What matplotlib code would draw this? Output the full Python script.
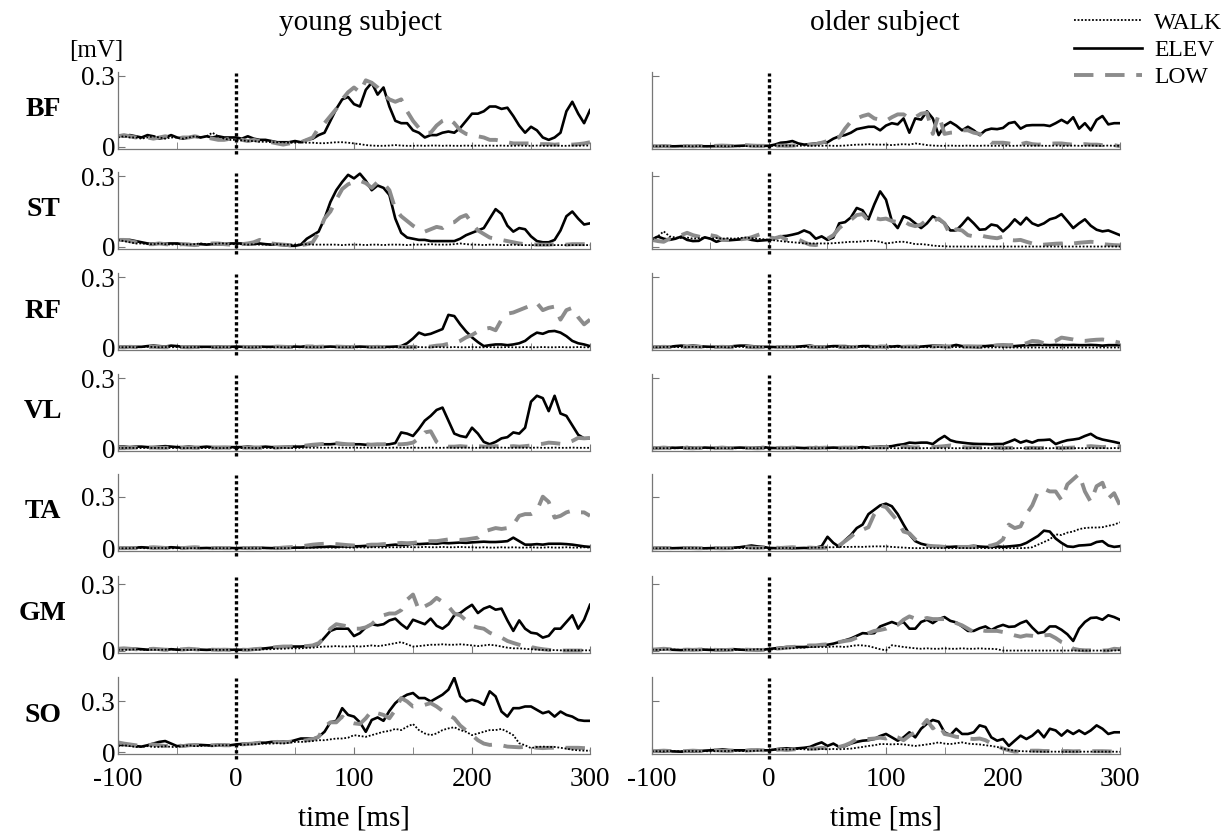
import numpy as np
import matplotlib
matplotlib.use("Agg")
import matplotlib.pyplot as plt
from matplotlib.lines import Line2D

plt.rcParams["font.family"] = ["Liberation Serif", "DejaVu Serif"]

# time axis [ms], one sample every 5 ms
time_ms = np.arange(-100, 301, 5)

muscles = ["BF", "ST", "RF", "VL", "TA", "GM", "SO"]
subjects = ["young subject", "older subject"]
conditions = ["WALK", "ELEV", "LOW"]

# ---------------- young subject, EMG [mV] ----------------
bf_young_walk = [0.04, 0.045, 0.04, 0.04, 0.035, 0.04, 0.045, 0.04, 0.035, 0.04, 0.04, 0.035, 0.04, 0.045, 0.04, 0.045, 0.06, 0.045, 0.035, 0.03,
                 0.03, 0.028, 0.025, 0.025, 0.022, 0.022, 0.02, 0.02, 0.02, 0.018, 0.018, 0.02, 0.018, 0.018, 0.016, 0.016, 0.018, 0.02, 0.02, 0.018,
                 0.015, 0.012, 0.008, 0.006, 0.005, 0.005, 0.006, 0.008, 0.006, 0.005, 0.005, 0.006, 0.005, 0.006, 0.006, 0.005, 0.006, 0.005, 0.005, 0.006,
                 0.005, 0.006, 0.005, 0.006, 0.005, 0.006, 0.005, 0.005, 0.006, 0.005, 0.005, 0.006, 0.005, 0.005, 0.006, 0.005, 0.005, 0.006, 0.005, 0.006,
                 0.006]
bf_young_elev = [0.05, 0.045, 0.05, 0.045, 0.04, 0.05, 0.045, 0.035, 0.04, 0.05, 0.04, 0.035, 0.04, 0.045, 0.04, 0.045, 0.04, 0.045, 0.04, 0.04,
                 0.04, 0.035, 0.045, 0.035, 0.03, 0.03, 0.025, 0.02, 0.02, 0.02, 0.025, 0.02, 0.03, 0.035, 0.05, 0.06, 0.11, 0.16, 0.2, 0.21,
                 0.18, 0.17, 0.24, 0.27, 0.22, 0.25, 0.17, 0.11, 0.1, 0.1, 0.07, 0.06, 0.04, 0.05, 0.05, 0.06, 0.065, 0.06, 0.08, 0.11,
                 0.14, 0.14, 0.15, 0.17, 0.17, 0.16, 0.165, 0.13, 0.09, 0.06, 0.085, 0.07, 0.04, 0.03, 0.04, 0.06, 0.15, 0.19, 0.14, 0.1,
                 0.155]
bf_young_low = [0.045, 0.05, 0.045, 0.04, 0.045, 0.04, 0.035, 0.04, 0.045, 0.04, 0.035, 0.04, 0.04, 0.045, 0.04, 0.04, 0.035, 0.03, 0.03, 0.035,
                0.035, 0.03, 0.025, 0.03, 0.025, 0.02, 0.02, 0.015, 0.01, 0.015, 0.015, 0.02, 0.03, 0.04, 0.08, 0.1, 0.13, 0.16, 0.2, 0.23,
                0.25, 0.23, 0.28, 0.27, 0.25, 0.22, 0.2, 0.19, 0.2, 0.15, 0.11, 0.08, 0.06, 0.06, 0.09, 0.11, 0.12, 0.1, 0.07, 0.055,
                0.05, 0.045, 0.04, 0.03, 0.03, 0.025, 0.02, 0.015, 0.015, 0.015, 0.015, 0.012, 0.012, 0.012, 0.01, 0.012, 0.012, 0.01, 0.012, 0.015,
                0.02]

st_young_walk = [0.03, 0.025, 0.02, 0.015, 0.015, 0.012, 0.012, 0.015, 0.012, 0.01, 0.012, 0.012, 0.01, 0.012, 0.015, 0.012, 0.012, 0.015, 0.015, 0.012,
                 0.012, 0.012, 0.01, 0.012, 0.01, 0.01, 0.01, 0.012, 0.01, 0.01, 0.01, 0.01, 0.012, 0.01, 0.01, 0.01, 0.01, 0.01, 0.008, 0.01,
                 0.01, 0.01, 0.008, 0.01, 0.01, 0.008, 0.01, 0.01, 0.01, 0.008, 0.01, 0.01, 0.01, 0.012, 0.01, 0.01, 0.01, 0.012, 0.015, 0.012,
                 0.01, 0.01, 0.008, 0.01, 0.01, 0.008, 0.008, 0.01, 0.008, 0.008, 0.008, 0.008, 0.008, 0.008, 0.008, 0.008, 0.008, 0.008, 0.008, 0.008,
                 0.008]
st_young_elev = [0.03, 0.03, 0.03, 0.025, 0.02, 0.015, 0.015, 0.015, 0.015, 0.015, 0.015, 0.012, 0.012, 0.01, 0.012, 0.01, 0.012, 0.012, 0.012, 0.015,
                 0.015, 0.015, 0.012, 0.012, 0.015, 0.012, 0.01, 0.01, 0.008, 0.005, 0.005, 0.01, 0.035, 0.05, 0.065, 0.12, 0.19, 0.24, 0.275, 0.305,
                 0.29, 0.31, 0.28, 0.24, 0.26, 0.25, 0.22, 0.12, 0.06, 0.04, 0.035, 0.03, 0.03, 0.025, 0.025, 0.025, 0.025, 0.025, 0.035, 0.05,
                 0.06, 0.07, 0.08, 0.12, 0.16, 0.14, 0.09, 0.065, 0.08, 0.075, 0.045, 0.025, 0.02, 0.02, 0.03, 0.07, 0.13, 0.15, 0.12, 0.095,
                 0.1]
st_young_low = [0.03, 0.03, 0.025, 0.02, 0.015, 0.012, 0.012, 0.015, 0.012, 0.01, 0.01, 0.012, 0.01, 0.008, 0.01, 0.012, 0.015, 0.015, 0.012, 0.01,
                0.012, 0.012, 0.015, 0.02, 0.03, 0.02, 0.015, 0.012, 0.01, 0.008, 0.005, 0.008, 0.012, 0.02, 0.06, 0.12, 0.15, 0.2, 0.245, 0.265,
                0.275, 0.28, 0.27, 0.25, 0.275, 0.27, 0.24, 0.16, 0.13, 0.11, 0.09, 0.075, 0.065, 0.075, 0.085, 0.08, 0.1, 0.105, 0.125, 0.135,
                0.1, 0.07, 0.055, 0.04, 0.035, 0.03, 0.025, 0.02, 0.015, 0.012, 0.012, 0.01, 0.01, 0.01, 0.012, 0.01, 0.01, 0.012, 0.012, 0.012,
                0.012]

rf_young_walk = [0.004, 0.003, 0.004, 0.003, 0.004, 0.005, 0.004, 0.003, 0.004, 0.003, 0.004, 0.003, 0.003, 0.004, 0.003, 0.004, 0.003, 0.003, 0.004, 0.003,
                 0.003, 0.004, 0.003, 0.003, 0.004, 0.003, 0.003, 0.004, 0.003, 0.003, 0.004, 0.003, 0.003, 0.004, 0.003, 0.003, 0.004, 0.003, 0.003, 0.004,
                 0.003, 0.003, 0.004, 0.003, 0.003, 0.004, 0.003, 0.003, 0.004, 0.003, 0.003, 0.004, 0.003, 0.003, 0.004, 0.003, 0.003, 0.004, 0.003, 0.003,
                 0.004, 0.003, 0.003, 0.004, 0.003, 0.003, 0.004, 0.003, 0.003, 0.004, 0.003, 0.003, 0.004, 0.003, 0.003, 0.004, 0.003, 0.003, 0.004, 0.003,
                 0.003]
rf_young_elev = [0.005, 0.005, 0.006, 0.005, 0.005, 0.008, 0.01, 0.008, 0.006, 0.01, 0.008, 0.005, 0.005, 0.006, 0.005, 0.005, 0.005, 0.006, 0.005, 0.005,
                 0.006, 0.005, 0.005, 0.005, 0.006, 0.005, 0.005, 0.006, 0.005, 0.005, 0.006, 0.005, 0.008, 0.008, 0.005, 0.005, 0.006, 0.005, 0.005, 0.005,
                 0.005, 0.006, 0.005, 0.005, 0.006, 0.005, 0.005, 0.006, 0.008, 0.02, 0.04, 0.065, 0.055, 0.06, 0.07, 0.08, 0.14, 0.135, 0.1, 0.07,
                 0.045, 0.025, 0.008, 0.012, 0.015, 0.015, 0.012, 0.015, 0.02, 0.03, 0.05, 0.065, 0.06, 0.07, 0.072, 0.065, 0.05, 0.03, 0.02, 0.015,
                 0.008]
rf_young_low = [0.004, 0.003, 0.005, 0.004, 0.003, 0.004, 0.005, 0.004, 0.003, 0.004, 0.005, 0.004, 0.003, 0.004, 0.004, 0.005, 0.004, 0.003, 0.004, 0.004,
                0.004, 0.005, 0.004, 0.003, 0.004, 0.005, 0.004, 0.006, 0.005, 0.004, 0.005, 0.006, 0.005, 0.004, 0.005, 0.006, 0.008, 0.006, 0.005, 0.004,
                0.005, 0.004, 0.005, 0.004, 0.005, 0.004, 0.005, 0.004, 0.005, 0.004, 0.005, 0.004, 0.005, 0.006, 0.01, 0.012, 0.018, 0.02, 0.03, 0.045,
                0.055, 0.07, 0.08, 0.085, 0.075, 0.12, 0.145, 0.15, 0.16, 0.17, 0.18, 0.19, 0.16, 0.17, 0.175, 0.12, 0.16, 0.17, 0.13, 0.1,
                0.12]

vl_young_walk = [0.005, 0.004, 0.005, 0.004, 0.004, 0.005, 0.004, 0.005, 0.004, 0.004, 0.005, 0.004, 0.004, 0.005, 0.004, 0.004, 0.005, 0.004, 0.004, 0.005,
                 0.004, 0.004, 0.005, 0.004, 0.004, 0.005, 0.004, 0.004, 0.005, 0.004, 0.004, 0.005, 0.006, 0.005, 0.006, 0.005, 0.006, 0.005, 0.006, 0.005,
                 0.006, 0.005, 0.006, 0.005, 0.006, 0.005, 0.005, 0.006, 0.005, 0.005, 0.006, 0.005, 0.005, 0.006, 0.005, 0.005, 0.006, 0.005, 0.005, 0.006,
                 0.005, 0.005, 0.006, 0.005, 0.005, 0.006, 0.005, 0.005, 0.006, 0.005, 0.005, 0.006, 0.005, 0.005, 0.006, 0.005, 0.005, 0.006, 0.005, 0.005,
                 0.005]
vl_young_elev = [0.01, 0.01, 0.008, 0.01, 0.01, 0.008, 0.008, 0.01, 0.012, 0.01, 0.008, 0.008, 0.01, 0.008, 0.008, 0.01, 0.008, 0.008, 0.008, 0.008,
                 0.008, 0.008, 0.01, 0.008, 0.008, 0.01, 0.008, 0.008, 0.008, 0.01, 0.01, 0.01, 0.012, 0.015, 0.018, 0.02, 0.02, 0.022, 0.02, 0.018,
                 0.02, 0.02, 0.018, 0.02, 0.02, 0.018, 0.02, 0.025, 0.07, 0.065, 0.055, 0.085, 0.12, 0.14, 0.165, 0.175, 0.12, 0.065, 0.055, 0.05,
                 0.09, 0.065, 0.03, 0.02, 0.03, 0.045, 0.05, 0.07, 0.065, 0.09, 0.2, 0.225, 0.215, 0.16, 0.225, 0.15, 0.14, 0.1, 0.06, 0.045,
                 0.045]
vl_young_low = [0.006, 0.005, 0.005, 0.006, 0.005, 0.005, 0.006, 0.005, 0.005, 0.006, 0.005, 0.005, 0.006, 0.005, 0.005, 0.006, 0.005, 0.005, 0.006, 0.005,
                0.005, 0.005, 0.006, 0.005, 0.005, 0.006, 0.005, 0.006, 0.008, 0.008, 0.01, 0.012, 0.015, 0.018, 0.02, 0.022, 0.025, 0.025, 0.022, 0.02,
                0.02, 0.022, 0.02, 0.018, 0.02, 0.02, 0.022, 0.02, 0.02, 0.022, 0.027, 0.045, 0.07, 0.075, 0.03, 0.012, 0.01, 0.01, 0.012, 0.01,
                0.01, 0.012, 0.01, 0.01, 0.012, 0.01, 0.01, 0.012, 0.01, 0.012, 0.015, 0.02, 0.022, 0.027, 0.025, 0.022, 0.025, 0.034, 0.047, 0.045,
                0.047]

ta_young_walk = [0.005, 0.004, 0.005, 0.006, 0.005, 0.004, 0.005, 0.006, 0.005, 0.004, 0.005, 0.005, 0.004, 0.005, 0.006, 0.005, 0.004, 0.005, 0.005, 0.004,
                 0.005, 0.004, 0.005, 0.005, 0.004, 0.005, 0.005, 0.004, 0.005, 0.005, 0.006, 0.006, 0.007, 0.008, 0.008, 0.01, 0.008, 0.008, 0.01, 0.008,
                 0.008, 0.01, 0.008, 0.01, 0.01, 0.008, 0.01, 0.01, 0.01, 0.012, 0.01, 0.01, 0.012, 0.01, 0.01, 0.012, 0.01, 0.01, 0.012, 0.01,
                 0.01, 0.008, 0.01, 0.008, 0.008, 0.01, 0.008, 0.01, 0.008, 0.008, 0.01, 0.008, 0.008, 0.01, 0.008, 0.008, 0.01, 0.008, 0.008, 0.01,
                 0.008]
ta_young_elev = [0.006, 0.005, 0.006, 0.008, 0.01, 0.008, 0.005, 0.006, 0.008, 0.01, 0.008, 0.006, 0.008, 0.006, 0.005, 0.006, 0.005, 0.006, 0.005, 0.006,
                 0.005, 0.006, 0.005, 0.008, 0.008, 0.006, 0.005, 0.006, 0.005, 0.006, 0.008, 0.008, 0.01, 0.01, 0.012, 0.012, 0.014, 0.012, 0.015, 0.014,
                 0.015, 0.016, 0.018, 0.016, 0.02, 0.018, 0.022, 0.025, 0.022, 0.025, 0.03, 0.028, 0.03, 0.032, 0.03, 0.035, 0.033, 0.035, 0.037, 0.035,
                 0.038, 0.04, 0.042, 0.04, 0.04, 0.042, 0.045, 0.065, 0.045, 0.025, 0.025, 0.028, 0.025, 0.03, 0.03, 0.03, 0.028, 0.025, 0.02, 0.015,
                 0.012]
ta_young_low = [0.005, 0.006, 0.005, 0.005, 0.006, 0.008, 0.01, 0.008, 0.006, 0.005, 0.006, 0.005, 0.008, 0.01, 0.008, 0.006, 0.005, 0.006, 0.005, 0.005,
                0.005, 0.006, 0.005, 0.005, 0.006, 0.005, 0.006, 0.005, 0.008, 0.01, 0.012, 0.015, 0.02, 0.025, 0.028, 0.03, 0.03, 0.028, 0.025, 0.022,
                0.02, 0.02, 0.022, 0.025, 0.025, 0.028, 0.03, 0.032, 0.035, 0.033, 0.035, 0.04, 0.042, 0.045, 0.045, 0.05, 0.055, 0.055, 0.052, 0.055,
                0.06, 0.065, 0.1, 0.11, 0.12, 0.115, 0.12, 0.14, 0.19, 0.2, 0.2, 0.22, 0.3, 0.27, 0.18, 0.19, 0.21, 0.22, 0.21, 0.21,
                0.19]

gm_young_walk = [0.006, 0.005, 0.006, 0.008, 0.006, 0.005, 0.006, 0.005, 0.006, 0.008, 0.006, 0.005, 0.005, 0.006, 0.005, 0.005, 0.006, 0.005, 0.005, 0.006,
                 0.005, 0.006, 0.005, 0.006, 0.006, 0.008, 0.008, 0.01, 0.01, 0.012, 0.012, 0.012, 0.014, 0.015, 0.018, 0.02, 0.02, 0.022, 0.02, 0.02,
                 0.022, 0.02, 0.022, 0.025, 0.022, 0.025, 0.03, 0.035, 0.04, 0.03, 0.02, 0.022, 0.025, 0.028, 0.028, 0.03, 0.028, 0.028, 0.03, 0.028,
                 0.025, 0.022, 0.025, 0.028, 0.025, 0.02, 0.015, 0.012, 0.012, 0.01, 0.008, 0.006, 0.005, 0.004, 0.004, 0.003, 0.003, 0.003, 0.003, 0.003,
                 0.003]
gm_young_elev = [0.008, 0.01, 0.012, 0.01, 0.008, 0.006, 0.008, 0.006, 0.005, 0.008, 0.006, 0.005, 0.006, 0.008, 0.006, 0.005, 0.006, 0.008, 0.006, 0.005,
                 0.006, 0.005, 0.006, 0.008, 0.01, 0.012, 0.015, 0.018, 0.02, 0.02, 0.02, 0.02, 0.022, 0.025, 0.03, 0.06, 0.09, 0.1, 0.1, 0.1,
                 0.067, 0.08, 0.106, 0.12, 0.115, 0.12, 0.137, 0.145, 0.12, 0.1, 0.14, 0.13, 0.12, 0.145, 0.113, 0.1, 0.12, 0.16, 0.17, 0.19,
                 0.207, 0.17, 0.19, 0.2, 0.185, 0.19, 0.137, 0.09, 0.137, 0.1, 0.082, 0.078, 0.06, 0.068, 0.1, 0.1, 0.13, 0.16, 0.1, 0.14,
                 0.207]
gm_young_low = [0.01, 0.012, 0.01, 0.008, 0.006, 0.008, 0.01, 0.008, 0.006, 0.005, 0.006, 0.008, 0.01, 0.008, 0.006, 0.005, 0.006, 0.005, 0.006, 0.005,
                0.005, 0.006, 0.005, 0.008, 0.01, 0.012, 0.015, 0.018, 0.02, 0.02, 0.022, 0.02, 0.022, 0.025, 0.035, 0.06, 0.1, 0.12, 0.115, 0.11,
                0.1, 0.1, 0.106, 0.12, 0.145, 0.16, 0.168, 0.168, 0.183, 0.23, 0.253, 0.183, 0.2, 0.214, 0.238, 0.22, 0.2, 0.168, 0.16, 0.137,
                0.113, 0.105, 0.1, 0.082, 0.07, 0.06, 0.045, 0.036, 0.028, 0.02, 0.018, 0.012, 0.008, 0.005, 0.003, 0.002, 0.002, 0.002, 0.002, 0.002,
                0.002]

so_young_walk = [0.035, 0.04, 0.035, 0.03, 0.03, 0.035, 0.03, 0.03, 0.035, 0.03, 0.03, 0.035, 0.04, 0.035, 0.035, 0.04, 0.035, 0.04, 0.04, 0.04,
                 0.04, 0.042, 0.045, 0.045, 0.048, 0.05, 0.05, 0.052, 0.05, 0.055, 0.06, 0.06, 0.062, 0.065, 0.07, 0.07, 0.075, 0.08, 0.08, 0.085,
                 0.1, 0.095, 0.09, 0.1, 0.11, 0.12, 0.125, 0.137, 0.13, 0.15, 0.166, 0.13, 0.11, 0.1, 0.11, 0.13, 0.14, 0.147, 0.13, 0.12,
                 0.1, 0.11, 0.12, 0.13, 0.13, 0.137, 0.12, 0.1, 0.052, 0.04, 0.023, 0.03, 0.032, 0.03, 0.03, 0.025, 0.02, 0.013, 0.01, 0.008,
                 0.008]
so_young_elev = [0.042, 0.042, 0.04, 0.035, 0.032, 0.04, 0.05, 0.06, 0.065, 0.05, 0.035, 0.038, 0.04, 0.04, 0.042, 0.04, 0.038, 0.04, 0.042, 0.04,
                 0.045, 0.048, 0.05, 0.052, 0.055, 0.055, 0.06, 0.06, 0.062, 0.06, 0.07, 0.08, 0.08, 0.078, 0.09, 0.12, 0.176, 0.185, 0.26, 0.22,
                 0.21, 0.176, 0.12, 0.19, 0.205, 0.185, 0.244, 0.29, 0.32, 0.34, 0.35, 0.32, 0.32, 0.3, 0.32, 0.34, 0.37, 0.44, 0.33, 0.3,
                 0.31, 0.3, 0.28, 0.36, 0.33, 0.24, 0.21, 0.26, 0.26, 0.27, 0.27, 0.25, 0.23, 0.24, 0.21, 0.24, 0.22, 0.21, 0.19, 0.185,
                 0.185]
so_young_low = [0.057, 0.05, 0.045, 0.04, 0.035, 0.04, 0.045, 0.04, 0.035, 0.04, 0.04, 0.035, 0.04, 0.042, 0.04, 0.038, 0.04, 0.042, 0.04, 0.04,
                0.042, 0.045, 0.048, 0.05, 0.055, 0.055, 0.058, 0.06, 0.058, 0.06, 0.065, 0.065, 0.07, 0.075, 0.09, 0.15, 0.176, 0.176, 0.21, 0.18,
                0.17, 0.166, 0.2, 0.244, 0.23, 0.22, 0.2, 0.25, 0.32, 0.3, 0.27, 0.275, 0.28, 0.29, 0.27, 0.244, 0.22, 0.2, 0.157, 0.128,
                0.1, 0.07, 0.05, 0.042, 0.045, 0.04, 0.032, 0.03, 0.028, 0.03, 0.03, 0.025, 0.023, 0.025, 0.025, 0.025, 0.025, 0.025, 0.025, 0.023,
                0.022]

# ---------------- older subject, EMG [mV] ----------------
bf_older_walk = [0.004, 0.003, 0.004, 0.003, 0.004, 0.003, 0.004, 0.003, 0.004, 0.003, 0.004, 0.003, 0.004, 0.003, 0.004, 0.003, 0.004, 0.003, 0.004, 0.003,
                 0.004, 0.005, 0.005, 0.006, 0.005, 0.005, 0.006, 0.005, 0.005, 0.005, 0.006, 0.005, 0.005, 0.006, 0.008, 0.01, 0.01, 0.012, 0.01, 0.01,
                 0.01, 0.008, 0.01, 0.012, 0.01, 0.015, 0.012, 0.008, 0.006, 0.005, 0.005, 0.006, 0.005, 0.005, 0.006, 0.005, 0.005, 0.006, 0.005, 0.005,
                 0.006, 0.005, 0.005, 0.006, 0.005, 0.005, 0.006, 0.005, 0.005, 0.006, 0.005, 0.005, 0.006, 0.005, 0.005, 0.006, 0.005, 0.005, 0.006, 0.005,
                 0.005]
bf_older_elev = [0.003, 0.003, 0.004, 0.003, 0.003, 0.004, 0.003, 0.003, 0.004, 0.003, 0.003, 0.004, 0.003, 0.003, 0.004, 0.005, 0.006, 0.005, 0.004, 0.005,
                 0.005, 0.01, 0.018, 0.02, 0.025, 0.015, 0.01, 0.012, 0.015, 0.018, 0.02, 0.035, 0.045, 0.05, 0.06, 0.075, 0.08, 0.085, 0.085, 0.07,
                 0.09, 0.1, 0.095, 0.12, 0.06, 0.12, 0.115, 0.15, 0.12, 0.05, 0.09, 0.105, 0.09, 0.07, 0.085, 0.07, 0.05, 0.07, 0.077, 0.075,
                 0.08, 0.1, 0.105, 0.077, 0.09, 0.092, 0.092, 0.092, 0.088, 0.1, 0.114, 0.1, 0.125, 0.077, 0.1, 0.07, 0.114, 0.13, 0.095, 0.1,
                 0.1]
bf_older_low = [0.004, 0.003, 0.004, 0.003, 0.004, 0.003, 0.004, 0.003, 0.004, 0.003, 0.004, 0.005, 0.006, 0.005, 0.004, 0.006, 0.008, 0.006, 0.005, 0.005,
                0.005, 0.005, 0.006, 0.005, 0.006, 0.008, 0.008, 0.01, 0.012, 0.018, 0.025, 0.035, 0.04, 0.077, 0.107, 0.12, 0.13, 0.137, 0.12, 0.115,
                0.11, 0.125, 0.137, 0.137, 0.12, 0.125, 0.14, 0.144, 0.055, 0.137, 0.055, 0.06, 0.062, 0.07, 0.07, 0.06, 0.055, 0.04, 0.018, 0.018,
                0.018, 0.015, 0.01, 0.012, 0.018, 0.012, 0.01, 0.012, 0.014, 0.015, 0.015, 0.012, 0.01, 0.01, 0.012, 0.01, 0.01, 0.008, 0.01, 0.008,
                0.003]

st_older_walk = [0.032, 0.045, 0.066, 0.045, 0.04, 0.038, 0.04, 0.035, 0.037, 0.04, 0.035, 0.038, 0.035, 0.037, 0.035, 0.038, 0.04, 0.037, 0.035, 0.033,
                 0.03, 0.028, 0.025, 0.022, 0.02, 0.018, 0.015, 0.015, 0.015, 0.015, 0.015, 0.016, 0.018, 0.02, 0.022, 0.022, 0.024, 0.026, 0.026, 0.022,
                 0.015, 0.018, 0.022, 0.022, 0.018, 0.012, 0.012, 0.01, 0.006, 0.004, 0.003, 0.002, 0.002, 0.002, 0.002, 0.002, 0.002, 0.002, 0.002, 0.002,
                 0.002, 0.002, 0.002, 0.002, 0.002, 0.002, 0.002, 0.002, 0.002, 0.002, 0.002, 0.002, 0.002, 0.002, 0.002, 0.002, 0.002, 0.002, 0.002, 0.002,
                 0.002]
st_older_elev = [0.032, 0.044, 0.035, 0.03, 0.035, 0.044, 0.03, 0.025, 0.026, 0.041, 0.035, 0.022, 0.03, 0.028, 0.03, 0.032, 0.037, 0.03, 0.026, 0.028,
                 0.03, 0.035, 0.045, 0.047, 0.052, 0.058, 0.07, 0.06, 0.035, 0.045, 0.03, 0.04, 0.1, 0.105, 0.125, 0.165, 0.155, 0.117, 0.18, 0.235,
                 0.2, 0.11, 0.08, 0.13, 0.12, 0.1, 0.08, 0.1, 0.13, 0.115, 0.1, 0.07, 0.07, 0.095, 0.124, 0.1, 0.073, 0.075, 0.095, 0.09,
                 0.066, 0.088, 0.117, 0.095, 0.124, 0.1, 0.09, 0.1, 0.117, 0.124, 0.139, 0.11, 0.08, 0.1, 0.117, 0.09, 0.073, 0.066, 0.07, 0.06,
                 0.05]
st_older_low = [0.03, 0.025, 0.022, 0.035, 0.044, 0.05, 0.06, 0.05, 0.044, 0.037, 0.05, 0.045, 0.03, 0.03, 0.03, 0.032, 0.035, 0.041, 0.05, 0.058,
                0.041, 0.037, 0.044, 0.03, 0.028, 0.032, 0.02, 0.01, 0.008, 0.015, 0.035, 0.05, 0.08, 0.1, 0.115, 0.135, 0.139, 0.11, 0.124, 0.117,
                0.12, 0.11, 0.105, 0.11, 0.095, 0.088, 0.095, 0.115, 0.11, 0.12, 0.1, 0.05, 0.075, 0.07, 0.05, 0.045, 0.05, 0.044, 0.04, 0.037,
                0.044, 0.03, 0.028, 0.03, 0.022, 0.015, 0.007, 0.01, 0.012, 0.014, 0.015, 0.012, 0.015, 0.018, 0.02, 0.022, 0.02, 0.012, 0.01, 0.008,
                0.007]

rf_older_walk = [0.004, 0.003, 0.004, 0.005, 0.004, 0.003, 0.004, 0.005, 0.004, 0.003, 0.004, 0.005, 0.004, 0.003, 0.004, 0.005, 0.004, 0.003, 0.004, 0.005,
                 0.004, 0.003, 0.004, 0.005, 0.004, 0.003, 0.004, 0.005, 0.004, 0.003, 0.004, 0.005, 0.004, 0.003, 0.004, 0.005, 0.004, 0.003, 0.004, 0.005,
                 0.004, 0.003, 0.004, 0.004, 0.003, 0.003, 0.004, 0.003, 0.003, 0.004, 0.003, 0.003, 0.004, 0.003, 0.003, 0.003, 0.002, 0.003, 0.002, 0.003,
                 0.002, 0.002, 0.002, 0.002, 0.002, 0.002, 0.002, 0.002, 0.002, 0.002, 0.002, 0.002, 0.002, 0.002, 0.002, 0.002, 0.002, 0.002, 0.002, 0.002,
                 0.002]
rf_older_elev = [0.004, 0.005, 0.006, 0.005, 0.008, 0.01, 0.008, 0.01, 0.008, 0.006, 0.005, 0.005, 0.006, 0.005, 0.008, 0.01, 0.01, 0.008, 0.006, 0.005,
                 0.005, 0.004, 0.005, 0.004, 0.005, 0.006, 0.008, 0.01, 0.006, 0.005, 0.006, 0.008, 0.008, 0.008, 0.006, 0.006, 0.008, 0.008, 0.006, 0.008,
                 0.008, 0.006, 0.008, 0.006, 0.006, 0.008, 0.006, 0.008, 0.01, 0.01, 0.008, 0.008, 0.013, 0.008, 0.008, 0.008, 0.008, 0.008, 0.01, 0.01,
                 0.008, 0.008, 0.008, 0.01, 0.012, 0.012, 0.013, 0.013, 0.012, 0.013, 0.012, 0.012, 0.013, 0.012, 0.012, 0.013, 0.012, 0.01, 0.012, 0.012,
                 0.012]
rf_older_low = [0.003, 0.004, 0.005, 0.004, 0.003, 0.004, 0.005, 0.006, 0.005, 0.004, 0.003, 0.004, 0.005, 0.004, 0.003, 0.004, 0.005, 0.004, 0.003, 0.004,
                0.004, 0.003, 0.004, 0.005, 0.004, 0.003, 0.004, 0.005, 0.004, 0.003, 0.004, 0.005, 0.004, 0.003, 0.004, 0.005, 0.004, 0.003, 0.004, 0.005,
                0.004, 0.005, 0.004, 0.005, 0.006, 0.005, 0.004, 0.005, 0.006, 0.008, 0.006, 0.005, 0.004, 0.005, 0.006, 0.005, 0.004, 0.005, 0.008, 0.012,
                0.013, 0.012, 0.013, 0.015, 0.02, 0.03, 0.028, 0.02, 0.022, 0.03, 0.044, 0.04, 0.036, 0.03, 0.03, 0.033, 0.035, 0.036, 0.032, 0.028,
                0.022]

vl_older_walk = [0.003, 0.004, 0.003, 0.004, 0.003, 0.004, 0.003, 0.004, 0.003, 0.004, 0.003, 0.004, 0.003, 0.004, 0.003, 0.004, 0.003, 0.004, 0.003, 0.004,
                 0.003, 0.004, 0.003, 0.004, 0.003, 0.004, 0.003, 0.004, 0.003, 0.004, 0.003, 0.004, 0.003, 0.004, 0.003, 0.004, 0.003, 0.004, 0.003, 0.004,
                 0.003, 0.004, 0.003, 0.004, 0.003, 0.004, 0.003, 0.004, 0.003, 0.004, 0.003, 0.004, 0.003, 0.004, 0.003, 0.004, 0.003, 0.004, 0.003, 0.004,
                 0.003, 0.004, 0.003, 0.004, 0.003, 0.004, 0.003, 0.004, 0.003, 0.004, 0.003, 0.004, 0.003, 0.004, 0.003, 0.004, 0.003, 0.004, 0.003, 0.004,
                 0.003]
vl_older_elev = [0.005, 0.004, 0.005, 0.006, 0.005, 0.006, 0.008, 0.005, 0.004, 0.006, 0.005, 0.004, 0.005, 0.004, 0.005, 0.006, 0.005, 0.004, 0.006, 0.008,
                 0.005, 0.004, 0.005, 0.004, 0.006, 0.005, 0.004, 0.005, 0.008, 0.006, 0.005, 0.006, 0.005, 0.006, 0.008, 0.006, 0.008, 0.006, 0.008, 0.01,
                 0.01, 0.012, 0.017, 0.02, 0.027, 0.025, 0.027, 0.027, 0.021, 0.04, 0.055, 0.037, 0.03, 0.027, 0.024, 0.022, 0.021, 0.021, 0.02, 0.021,
                 0.021, 0.03, 0.04, 0.027, 0.035, 0.027, 0.037, 0.038, 0.04, 0.021, 0.03, 0.037, 0.04, 0.044, 0.055, 0.064, 0.048, 0.04, 0.035, 0.03,
                 0.024]
vl_older_low = [0.003, 0.004, 0.006, 0.004, 0.003, 0.005, 0.004, 0.003, 0.005, 0.004, 0.003, 0.004, 0.006, 0.004, 0.003, 0.004, 0.005, 0.004, 0.003, 0.004,
                0.003, 0.004, 0.005, 0.004, 0.006, 0.005, 0.004, 0.005, 0.004, 0.005, 0.006, 0.005, 0.005, 0.006, 0.005, 0.006, 0.008, 0.006, 0.008, 0.006,
                0.008, 0.006, 0.008, 0.01, 0.008, 0.006, 0.008, 0.006, 0.008, 0.01, 0.012, 0.015, 0.01, 0.008, 0.006, 0.008, 0.006, 0.005, 0.006, 0.005,
                0.004, 0.005, 0.004, 0.005, 0.004, 0.005, 0.004, 0.005, 0.004, 0.005, 0.004, 0.005, 0.006, 0.008, 0.01, 0.012, 0.01, 0.008, 0.01, 0.012,
                0.01]

ta_older_walk = [0.005, 0.004, 0.005, 0.006, 0.005, 0.004, 0.005, 0.006, 0.005, 0.004, 0.005, 0.006, 0.005, 0.004, 0.005, 0.006, 0.005, 0.004, 0.005, 0.006,
                 0.005, 0.004, 0.005, 0.006, 0.005, 0.006, 0.006, 0.007, 0.008, 0.008, 0.01, 0.01, 0.012, 0.012, 0.012, 0.013, 0.012, 0.014, 0.015, 0.015,
                 0.015, 0.012, 0.01, 0.008, 0.006, 0.005, 0.005, 0.006, 0.005, 0.005, 0.006, 0.005, 0.005, 0.006, 0.005, 0.005, 0.006, 0.005, 0.005, 0.005,
                 0.005, 0.005, 0.005, 0.005, 0.006, 0.01, 0.025, 0.04, 0.055, 0.084, 0.08, 0.094, 0.1, 0.114, 0.12, 0.123, 0.123, 0.125, 0.133, 0.14,
                 0.153]
ta_older_elev = [0.005, 0.006, 0.005, 0.004, 0.005, 0.006, 0.008, 0.006, 0.005, 0.004, 0.005, 0.006, 0.005, 0.006, 0.008, 0.01, 0.015, 0.02, 0.015, 0.012,
                 0.006, 0.005, 0.006, 0.005, 0.004, 0.005, 0.006, 0.005, 0.008, 0.016, 0.07, 0.035, 0.012, 0.05, 0.08, 0.12, 0.14, 0.2, 0.225, 0.25,
                 0.26, 0.245, 0.2, 0.14, 0.084, 0.045, 0.03, 0.022, 0.016, 0.015, 0.012, 0.012, 0.014, 0.012, 0.015, 0.018, 0.014, 0.012, 0.012, 0.015,
                 0.012, 0.015, 0.018, 0.022, 0.035, 0.055, 0.075, 0.105, 0.1, 0.06, 0.035, 0.015, 0.012, 0.02, 0.022, 0.025, 0.04, 0.045, 0.02, 0.012,
                 0.016]
ta_older_low = [0.004, 0.005, 0.006, 0.005, 0.004, 0.005, 0.006, 0.005, 0.004, 0.005, 0.006, 0.005, 0.004, 0.005, 0.006, 0.008, 0.01, 0.008, 0.006, 0.008,
                0.01, 0.008, 0.006, 0.008, 0.01, 0.008, 0.006, 0.008, 0.006, 0.006, 0.008, 0.01, 0.02, 0.045, 0.07, 0.1, 0.11, 0.125, 0.2, 0.25,
                0.24, 0.2, 0.16, 0.1, 0.09, 0.055, 0.03, 0.02, 0.016, 0.015, 0.012, 0.012, 0.012, 0.012, 0.012, 0.012, 0.015, 0.015, 0.02, 0.03,
                0.055, 0.14, 0.12, 0.13, 0.2, 0.25, 0.33, 0.345, 0.33, 0.33, 0.28, 0.37, 0.4, 0.43, 0.33, 0.27, 0.36, 0.38, 0.29, 0.32,
                0.25]

gm_older_walk = [0.006, 0.005, 0.006, 0.008, 0.006, 0.005, 0.006, 0.005, 0.004, 0.005, 0.006, 0.005, 0.006, 0.004, 0.005, 0.006, 0.005, 0.006, 0.008, 0.006,
                 0.006, 0.008, 0.01, 0.012, 0.012, 0.015, 0.015, 0.018, 0.018, 0.018, 0.018, 0.02, 0.02, 0.018, 0.022, 0.026, 0.025, 0.022, 0.015, 0.008,
                 0.003, 0.026, 0.022, 0.018, 0.015, 0.012, 0.01, 0.012, 0.01, 0.01, 0.012, 0.01, 0.01, 0.012, 0.01, 0.01, 0.012, 0.01, 0.01, 0.008,
                 0.002, 0.002, 0.002, 0.002, 0.002, 0.002, 0.002, 0.002, 0.002, 0.002, 0.002, 0.002, 0.002, 0.002, 0.002, 0.002, 0.002, 0.002, 0.002, 0.002,
                 0.004]
gm_older_elev = [0.005, 0.006, 0.008, 0.006, 0.005, 0.004, 0.006, 0.005, 0.008, 0.006, 0.005, 0.004, 0.005, 0.006, 0.008, 0.006, 0.005, 0.006, 0.004, 0.006,
                 0.009, 0.012, 0.015, 0.018, 0.018, 0.018, 0.018, 0.02, 0.022, 0.025, 0.028, 0.033, 0.04, 0.048, 0.056, 0.068, 0.08, 0.078, 0.08, 0.11,
                 0.12, 0.13, 0.12, 0.13, 0.1, 0.1, 0.13, 0.14, 0.125, 0.143, 0.152, 0.135, 0.128, 0.11, 0.09, 0.09, 0.102, 0.11, 0.094, 0.108,
                 0.117, 0.108, 0.11, 0.125, 0.135, 0.105, 0.08, 0.085, 0.11, 0.11, 0.095, 0.075, 0.045, 0.1, 0.13, 0.148, 0.15, 0.14, 0.16, 0.152,
                 0.14]
gm_older_low = [0.006, 0.008, 0.01, 0.008, 0.006, 0.005, 0.006, 0.005, 0.006, 0.008, 0.006, 0.005, 0.004, 0.005, 0.006, 0.005, 0.006, 0.005, 0.004, 0.005,
                0.006, 0.01, 0.012, 0.015, 0.018, 0.02, 0.022, 0.025, 0.025, 0.028, 0.03, 0.033, 0.04, 0.045, 0.049, 0.06, 0.07, 0.08, 0.09, 0.094,
                0.1, 0.115, 0.117, 0.14, 0.155, 0.145, 0.14, 0.148, 0.143, 0.143, 0.143, 0.132, 0.125, 0.115, 0.1, 0.085, 0.095, 0.09, 0.09, 0.09,
                0.085, 0.078, 0.07, 0.064, 0.07, 0.068, 0.064, 0.07, 0.072, 0.058, 0.04, 0.03, 0.01, 0.005, 0.003, 0.003, 0.003, 0.002, 0.003, 0.01,
                0.008]

so_older_walk = [0.004, 0.005, 0.004, 0.006, 0.005, 0.004, 0.005, 0.006, 0.004, 0.005, 0.004, 0.006, 0.005, 0.006, 0.008, 0.006, 0.005, 0.006, 0.008, 0.01,
                 0.012, 0.014, 0.016, 0.015, 0.016, 0.018, 0.016, 0.015, 0.016, 0.018, 0.016, 0.018, 0.016, 0.018, 0.02, 0.025, 0.03, 0.036, 0.04, 0.047,
                 0.047, 0.045, 0.047, 0.045, 0.04, 0.036, 0.04, 0.045, 0.05, 0.057, 0.05, 0.047, 0.052, 0.057, 0.05, 0.047, 0.045, 0.04, 0.036, 0.03,
                 0.02, 0.012, 0.008, 0.005, 0.004, 0.003, 0.002, 0.002, 0.002, 0.002, 0.002, 0.002, 0.002, 0.002, 0.002, 0.002, 0.002, 0.002, 0.002, 0.002,
                 0.001]
so_older_elev = [0.003, 0.002, 0.003, 0.004, 0.003, 0.002, 0.004, 0.003, 0.005, 0.008, 0.01, 0.012, 0.016, 0.012, 0.01, 0.01, 0.01, 0.012, 0.01, 0.01,
                 0.01, 0.015, 0.02, 0.022, 0.02, 0.022, 0.025, 0.03, 0.045, 0.057, 0.036, 0.05, 0.03, 0.035, 0.05, 0.06, 0.067, 0.07, 0.077, 0.095,
                 0.107, 0.087, 0.067, 0.087, 0.117, 0.087, 0.138, 0.168, 0.19, 0.18, 0.117, 0.1, 0.138, 0.107, 0.107, 0.117, 0.158, 0.148, 0.087, 0.067,
                 0.077, 0.036, 0.067, 0.097, 0.077, 0.097, 0.128, 0.087, 0.138, 0.128, 0.097, 0.128, 0.107, 0.128, 0.107, 0.128, 0.158, 0.138, 0.107, 0.117,
                 0.117]
so_older_low = [0.005, 0.006, 0.008, 0.006, 0.005, 0.004, 0.006, 0.008, 0.006, 0.005, 0.008, 0.01, 0.008, 0.006, 0.008, 0.01, 0.008, 0.01, 0.012, 0.01,
                0.01, 0.012, 0.015, 0.012, 0.015, 0.018, 0.015, 0.02, 0.02, 0.025, 0.022, 0.025, 0.03, 0.04, 0.055, 0.077, 0.08, 0.077, 0.08, 0.085,
                0.08, 0.097, 0.087, 0.07, 0.097, 0.117, 0.148, 0.19, 0.14, 0.165, 0.107, 0.1, 0.09, 0.087, 0.08, 0.077, 0.08, 0.07, 0.05, 0.036,
                0.02, 0.01, 0.002, 0.004, 0.006, 0.008, 0.008, 0.006, 0.006, 0.004, 0.005, 0.006, 0.004, 0.005, 0.006, 0.005, 0.005, 0.005, 0.004, 0.002,
                0.001]

young = [
    (bf_young_walk, bf_young_elev, bf_young_low),
    (st_young_walk, st_young_elev, st_young_low),
    (rf_young_walk, rf_young_elev, rf_young_low),
    (vl_young_walk, vl_young_elev, vl_young_low),
    (ta_young_walk, ta_young_elev, ta_young_low),
    (gm_young_walk, gm_young_elev, gm_young_low),
    (so_young_walk, so_young_elev, so_young_low),
]
older = [
    (bf_older_walk, bf_older_elev, bf_older_low),
    (st_older_walk, st_older_elev, st_older_low),
    (rf_older_walk, rf_older_elev, rf_older_low),
    (vl_older_walk, vl_older_elev, vl_older_low),
    (ta_older_walk, ta_older_elev, ta_older_low),
    (gm_older_walk, gm_older_elev, gm_older_low),
    (so_older_walk, so_older_elev, so_older_low),
]

# upper y limit of each row [mV]
row_ymax = [0.315, 0.317, 0.317, 0.317, 0.43, 0.336, 0.445]

# layout in pixels of the 1230 x 832 picture
W, H = 1230, 832
col_x = [(118, 590), (652, 1120)]
zero_y = [147, 247, 348, 449, 549, 651, 752]
axis_h = 75

def fx(px):
    return px / W

def fy(py):
    return 1 - py / H

walk_style = dict(color="black", lw=1.3, linestyle=(0, (1, 1)))
elev_style = dict(color="black", lw=1.9, linestyle="-")
low_style = dict(color="#8c8c8c", lw=2.8, linestyle=(0, (5, 3)))

fig = plt.figure(figsize=(12.3, 8.32), dpi=100)

for c, data in enumerate([young, older]):
    for r, muscle in enumerate(muscles):
        walk, elev, low = data[r]
        ymax = row_ymax[r]
        ymin = -ymax * 2 / axis_h
        x0, x1 = col_x[c]
        top = zero_y[r] - axis_h
        bottom = zero_y[r] + 2
        ax = fig.add_axes([fx(x0), fy(bottom), (x1 - x0) / W, (bottom - top) / H])

        ax.plot(time_ms, elev, **elev_style)
        ax.plot(time_ms, low, **low_style)
        ax.plot(time_ms, walk, **walk_style)
        ax.axvline(0, ymin=-0.06, ymax=0.99, color="black", lw=2.4,
                   linestyle=(0, (1, 0.8)), clip_on=False)

        ax.set_xlim(-100, 300)
        ax.set_ylim(ymin, ymax)
        for side in ["top", "right"]:
            ax.spines[side].set_visible(False)
        for side in ["left", "bottom"]:
            ax.spines[side].set_color("#777777")
            ax.spines[side].set_linewidth(0.9)

        ax.set_xticks([-100, 0, 100, 200, 300])
        ax.set_xticks([-50, 50, 150, 250], minor=True)
        ax.tick_params(axis="both", which="both", direction="in", length=5,
                       color="#777777", labelsize=19.5)
        ax.tick_params(axis="y", pad=2)
        ax.tick_params(axis="x", pad=9)
        ax.set_yticks([0, 0.3])
        if c == 0:
            ax.set_yticklabels(["0", "0.3"])
        else:
            ax.set_yticklabels([])
        if r == len(muscles) - 1:
            ax.set_xticklabels(["-100", "0", "100", "200", "300"])
            ax.set_xlabel("time [ms]", fontsize=21, labelpad=10)
        else:
            ax.set_xticklabels([])

        if c == 0:
            fig.text(fx(43), fy(zero_y[r] - 37), muscle, fontsize=20,
                     fontweight="bold", ha="center", va="center")

fig.text(fx(360), fy(23), subjects[0], fontsize=21, ha="center", va="center")
fig.text(fx(885), fy(23), subjects[1], fontsize=21, ha="center", va="center")
fig.text(fx(96), fy(51), "[mV]", fontsize=18, ha="center", va="center")

handles = [Line2D([], [], **walk_style), Line2D([], [], **elev_style),
           Line2D([], [], **low_style)]
fig.legend(handles, conditions, loc="upper left",
           bbox_to_anchor=(fx(1074), fy(12)), frameon=False, fontsize=17,
           handlelength=2.9, handletextpad=0.5, labelspacing=0.25,
           borderpad=0, borderaxespad=0)

fig.savefig("out.png", dpi=100)
